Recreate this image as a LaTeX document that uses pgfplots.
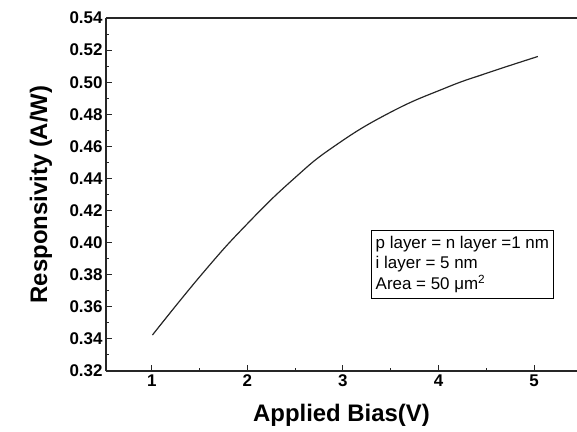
\documentclass[border=0pt]{standalone}
\usepackage{fontspec}
\setmainfont{Liberation Sans}
\usepackage{pgfplots}
\pgfplotsset{compat=1.18}
\begin{document}
\begin{tikzpicture}
\begin{axis}[
  scale only axis, width=471bp, height=353bp,
  xmin=0.52, xmax=5.45, ymin=0.32, ymax=0.54,
  separate axis lines,
  x axis line style={line width=1.1pt, black!85},
  y axis line style={draw=none},
  xtick={1,2,3,4,5}, minor x tick num=1,
  ytick={0.32,0.34,0.36,0.38,0.40,0.42,0.44,0.46,0.48,0.50,0.52,0.54}, minor y tick num=1,
  tick align=inside, xtick pos=bottom, ytick pos=left,
  major tick length=6bp, minor tick length=3.5bp,
  tick style={line width=1pt, black!85},
  /pgf/number format/assume math mode=true,
  ticklabel style={font=\fontsize{17}{20}\selectfont\bfseries},
  yticklabel style={/pgf/number format/.cd, fixed, fixed zerofill, precision=2},
  xlabel={Applied Bias(V)}, ylabel={Responsivity (A/W)},
  label style={font=\fontsize{24}{28}\selectfont\bfseries},
  x label style={at={(axis description cs:0.5,-0.1246)}, anchor=center},
  y label style={at={(axis description cs:-0.138,0.5)}, anchor=center, rotate=0},
  clip=false,
]
\addplot[smooth, tension=0.8, line width=1.2pt, black!85] coordinates {
(1.006,0.3424) (1.54,0.3815) (2.0,0.4118) (2.48,0.4395) (2.915,0.4603) (3.49,0.4810) (4.065,0.4962) (4.5,0.5055) (5.04,0.5160)
};
\draw[line width=1.1pt, black!85] (rel axis cs:0,0) -- (rel axis cs:0,1);
\node[draw, line width=0.8pt, align=left, font=\fontsize{17}{21}\selectfont, inner xsep=4bp, inner ysep=5bp] at (axis cs:4.25,0.3864) {p layer = n layer =1 nm\\ i layer = 5 nm\\ Area = 50 μm\textsuperscript{2}};
\coordinate (SW) at (rel axis cs:0,0);
\coordinate (NE) at (rel axis cs:1,1);
\end{axis}
\pgfresetboundingbox
\useasboundingbox ([shift={(-106bp,-61bp)}]SW) rectangle ([shift={(0bp,18bp)}]NE);
\end{tikzpicture}
\end{document}
